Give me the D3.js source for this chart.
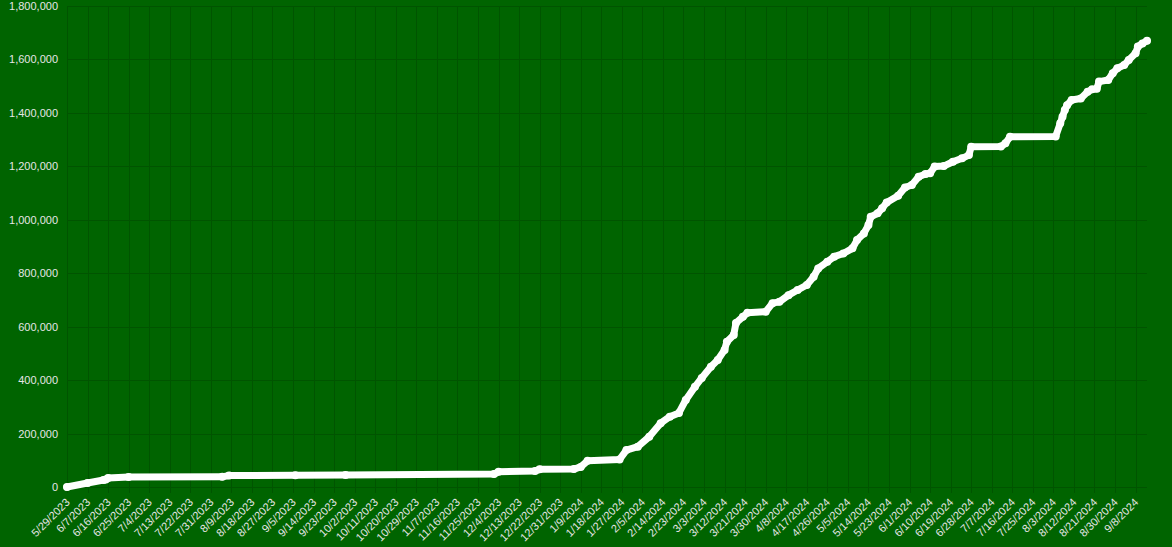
<!DOCTYPE html>
<html>
<head>
<meta charset="utf-8">
<script src="https://cdn.jsdelivr.net/npm/d3@7"></script>
<style>
  html, body { margin: 0; padding: 0; background: #006400; }
  svg { display: block; }
  text { font-family: "Liberation Sans", Arial, sans-serif; }
</style>
</head>
<body>
<svg id="chart" width="1172" height="547"></svg>
<script>
// ---- data ----
const dates = [
  "2023-05-29","2023-06-07","2023-06-14","2023-06-15","2023-06-16","2023-06-25",
  "2023-08-05","2023-08-08","2023-09-06","2023-09-28","2023-12-02","2023-12-04",
  "2023-12-20","2023-12-22","2024-01-06","2024-01-09","2024-01-12","2024-01-26",
  "2024-01-29","2024-02-03","2024-02-08","2024-02-13","2024-02-17","2024-02-21",
  "2024-02-24","2024-02-28","2024-03-02","2024-03-06","2024-03-09","2024-03-12",
  "2024-03-13","2024-03-16","2024-03-17","2024-03-20","2024-03-22","2024-03-30",
  "2024-04-02","2024-04-05","2024-04-09","2024-04-13","2024-04-17","2024-04-20",
  "2024-04-22","2024-04-26","2024-04-29","2024-05-03","2024-05-07","2024-05-09",
  "2024-05-12","2024-05-14","2024-05-15","2024-05-18","2024-05-20","2024-05-22",
  "2024-05-27","2024-05-30","2024-06-02","2024-06-05","2024-06-08","2024-06-10",
  "2024-06-12","2024-06-16","2024-06-20","2024-06-24","2024-06-27","2024-06-28",
  "2024-07-11","2024-07-13","2024-07-15","2024-08-04","2024-08-06","2024-08-07",
  "2024-08-08","2024-08-09","2024-08-11","2024-08-15","2024-08-18","2024-08-20",
  "2024-08-22","2024-08-23","2024-08-27","2024-08-29","2024-08-31","2024-09-03",
  "2024-09-05","2024-09-08","2024-09-09","2024-09-11","2024-09-13"
];
const values = [
  0, 15000, 26000, 28000, 34000, 37000,
  38000, 43000, 44000, 45000, 48600, 57000,
  60000, 66000, 67000, 75000, 98000, 103000,
  138000, 151000, 188000, 239000, 263000, 277000,
  326000, 375000, 408000, 450000, 475000, 513000,
  544000, 569000, 614000, 637000, 652000, 656000,
  688000, 693000, 718000, 737000, 756000, 787000,
  818000, 843000, 862000, 874000, 893000, 924000,
  949000, 980000, 1011000, 1024000, 1043000, 1065000,
  1090000, 1121000, 1130000, 1161000, 1171000, 1174000,
  1199000, 1201000, 1217000, 1230000, 1242000, 1273000,
  1274000, 1286000, 1311000, 1312000, 1361000, 1386000,
  1411000, 1429000, 1448000, 1454000, 1479000, 1488000,
  1490000, 1517000, 1523000, 1548000, 1567000, 1579000,
  1598000, 1623000, 1648000, 1660000, 1670000
];
const xTickLabels = [
  "5/29/2023","6/7/2023","6/16/2023","6/25/2023","7/4/2023","7/13/2023","7/22/2023",
  "7/31/2023","8/9/2023","8/18/2023","8/27/2023","9/5/2023","9/14/2023","9/23/2023",
  "10/2/2023","10/11/2023","10/20/2023","10/29/2023","11/7/2023","11/16/2023",
  "11/25/2023","12/4/2023","12/13/2023","12/22/2023","12/31/2023","1/9/2024",
  "1/18/2024","1/27/2024","2/5/2024","2/14/2024","2/23/2024","3/3/2024","3/12/2024",
  "3/21/2024","3/30/2024","4/8/2024","4/17/2024","4/26/2024","5/5/2024","5/14/2024",
  "5/23/2024","6/1/2024","6/10/2024","6/19/2024","6/28/2024","7/7/2024","7/16/2024",
  "7/25/2024","8/3/2024","8/12/2024","8/21/2024","8/30/2024","9/8/2024"
];
const yTicks = [0, 200000, 400000, 600000, 800000, 1000000, 1200000, 1400000, 1600000, 1800000];
const xDomain = ["2023-05-29", "2024-09-13"];

// ---- drawing ----
(function () {
const parseISO = d3.timeParse("%Y-%m-%d");
const parseMDY = d3.timeParse("%m/%d/%Y");
const data = dates.map((d, i) => ({ date: parseISO(d), value: values[i] }));
const tickDates = xTickLabels.map(parseMDY);

const mLeft = 67, mRight = 1147, mTop = 6, mBottom = 487;
const svg = d3.select("#chart");
svg.append("rect").attr("width", 1172).attr("height", 547).attr("fill", "#006400");

const x = d3.scaleTime().domain(xDomain.map(parseISO)).range([mLeft, mRight]);
const y = d3.scaleLinear().domain([0, 1800000]).range([mBottom, mTop]);

const gridColor = "#005400";

// horizontal gridlines + y labels
const yAxis = d3.axisLeft(y).tickValues(yTicks).tickFormat(d3.format(",")).tickSize(0).tickPadding(9);
const gy = svg.append("g").attr("transform", `translate(${mLeft},0)`).call(yAxis);
gy.select(".domain").remove();
gy.selectAll(".tick line").remove();
gy.selectAll(".tick").append("line")
  .attr("x1", 0).attr("x2", mRight - mLeft)
  .attr("stroke", gridColor).attr("stroke-width", 1).attr("shape-rendering", "crispEdges");
gy.selectAll("text").attr("fill", "#e6e6e6").attr("font-size", 11);

// vertical gridlines + x labels
const xAxis = d3.axisBottom(x).tickValues(tickDates).tickFormat((d, i) => xTickLabels[i]).tickSize(0);
const gx = svg.append("g").attr("transform", `translate(0,${mBottom})`).call(xAxis);
gx.select(".domain").remove();
gx.selectAll(".tick line").remove();
gx.selectAll(".tick").insert("line", "text")
  .attr("y1", 6).attr("y2", mTop - mBottom)
  .attr("stroke", gridColor).attr("stroke-width", 1).attr("shape-rendering", "crispEdges");
gx.selectAll("text")
  .attr("fill", "#e6e6e6").attr("font-size", 11)
  .attr("text-anchor", "end")
  .attr("dy", null)
  .attr("y", 0)
  .attr("transform", "translate(3,16) rotate(-45)");

// line + dots
const line = d3.line().x(d => x(d.date)).y(d => y(d.value));
svg.append("path").datum(data)
  .attr("d", line).attr("fill", "none").attr("stroke", "#ffffff")
  .attr("stroke-width", 7).attr("stroke-linejoin", "round").attr("stroke-linecap", "round");
svg.append("g").selectAll("circle").data(data).join("circle")
  .attr("cx", d => x(d.date)).attr("cy", d => y(d.value)).attr("r", 4)
  .attr("fill", "#ffffff");
})();
</script>
</body>
</html>
